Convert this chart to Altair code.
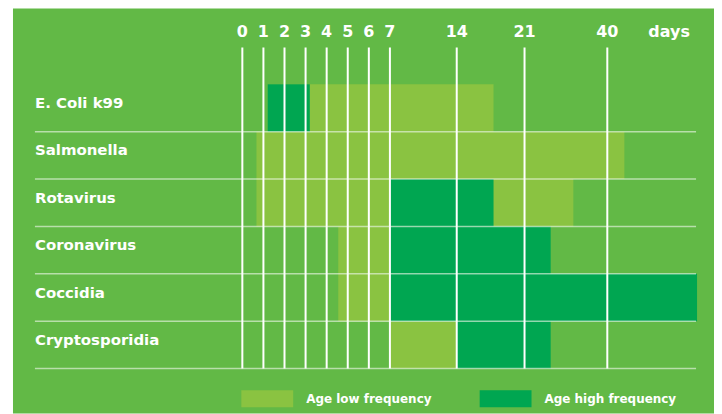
import altair as alt
import pandas as pd

rows = ["E. Coli k99", "Salmonella", "Rotavirus", "Coronavirus", "Coccidia", "Cryptosporidia"]
low_start = [1.2, 0.67, 0.67, 4.55, 4.55, 7]
low_end = [17.8, 43.8, 32.2, 7, 7, 14]
high_start = [1.2, None, 7, 7, 7, 14]
high_end = [3.2, None, 17.8, 27, 60, 27]
day_ticks = [0, 1, 2, 3, 4, 5, 6, 7, 14, 21, 40]
freq_labels = ["Age low frequency", "Age high frequency"]

BG = "#62B946"
LIGHT = "#8AC341"
DARK = "#00A651"
FONT = "DejaVu Sans"

recs = []
for i, r in enumerate(rows):
    recs.append(dict(row=r, i=i, i1=i + 1, start=low_start[i], end=low_end[i], freq=freq_labels[0], o=0))
for i, r in enumerate(rows):
    if high_start[i] is not None:
        recs.append(dict(row=r, i=i, i1=i + 1, start=high_start[i], end=high_end[i], freq=freq_labels[1], o=1))
bars_df = pd.DataFrame(recs)
rows_df = pd.DataFrame({"row": rows, "i": list(range(len(rows)))})
rows_df["i1"] = rows_df["i"] + 1
rows_df["yc"] = rows_df["i"] + 0.5
days_df = pd.DataFrame({"day": day_ticks, "lab": [str(d) for d in day_ticks]})

xscale = alt.Scale(domain=[0, 7, 14, 21, 40, 60], range=[230, 378, 445, 513, 596, 686], nice=False, zero=False)
yscale = alt.Scale(domain=[0, 6], range=[76, 361], nice=False, zero=False)

bars = alt.Chart(bars_df).mark_rect(strokeWidth=0).encode(
    x=alt.X("start:Q", scale=xscale, axis=None),
    x2="end:Q",
    y=alt.Y("i:Q", scale=yscale, axis=None),
    y2="i1:Q",
    color=alt.Color(
        "freq:N",
        scale=alt.Scale(domain=freq_labels, range=[LIGHT, DARK]),
        legend=alt.Legend(
            title=None,
            orient="none",
            legendX=229,
            legendY=365,
            direction="horizontal",
            symbolType="M-1,-0.327H1V0.327H-1Z",
            symbolSize=2704,
            symbolStrokeWidth=0,
            symbolOpacity=1,
            labelColor="white",
            labelFont=FONT,
            labelFontWeight="bold",
            labelFontSize=12,
            labelOffset=13,
            columnPadding=48,
            padding=0,
        ),
    ),
    order=alt.Order("o:Q"),
)

seps = alt.Chart(rows_df).mark_rule(color="white", opacity=0.55, strokeWidth=1.5).encode(
    y=alt.Y("i1:Q", scale=yscale, axis=None),
    x=alt.value(22),
    x2=alt.value(685),
)

vlines = alt.Chart(days_df).mark_rule(color="white", strokeWidth=2).encode(
    x=alt.X("day:Q", scale=xscale, axis=None),
    y=alt.value(39),
    y2=alt.value(361),
)

day_labels = alt.Chart(days_df).mark_text(
    color="white", font=FONT, fontWeight="bold", fontSize=16, baseline="middle", align="center"
).encode(
    x=alt.X("day:Q", scale=xscale, axis=None),
    y=alt.value(24),
    text="lab:N",
)

days_word = alt.Chart(pd.DataFrame({"t": ["days"]})).mark_text(
    color="white", font=FONT, fontWeight="bold", fontSize=16, baseline="middle", align="center"
).encode(
    x=alt.value(658),
    y=alt.value(24),
    text="t:N",
)

row_labels = alt.Chart(rows_df).mark_text(
    color="white", font=FONT, fontWeight="bold", fontSize=15, baseline="middle", align="left", dy=-5
).encode(
    y=alt.Y("yc:Q", scale=yscale, axis=None),
    x=alt.value(22),
    text="row:N",
)

chart = alt.layer(bars, seps, vlines, day_labels, days_word, row_labels).properties(
    width=703,
    height=406,
    autosize=alt.AutoSizeParams(type="none"),
    padding={"left": 5, "top": 0, "right": 0, "bottom": 0},
    background="white",
).configure_view(fill=BG, strokeWidth=0)

chart.save("out.html", embed_options={"renderer": "svg", "actions": False})
